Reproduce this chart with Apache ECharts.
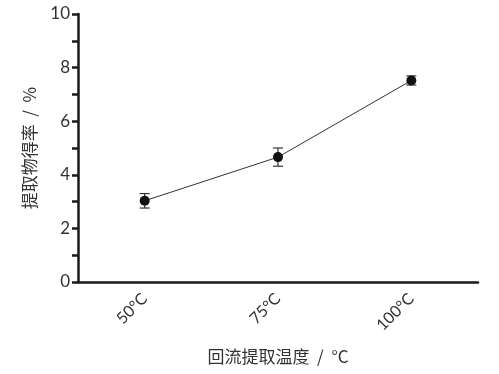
<!DOCTYPE html>
<html>
<head>
<meta charset="utf-8">
<script src="https://cdn.jsdelivr.net/npm/echarts@6/dist/echarts.min.js"></script>
<style>
  html, body { margin: 0; padding: 0; background: #fff; }
  #chart { width: 499px; height: 374px; }
</style>
</head>
<body>
<div id="chart"></div>
<script>
var categories = ['50°C', '75°C', '100°C'];
var yieldValues = [3.03, 4.66, 7.52];
var yieldErrors = [0.27, 0.34, 0.17];

var chart = echarts.init(document.getElementById('chart'));

var errorData = categories.map(function (c, i) {
    return [i, yieldValues[i] - yieldErrors[i], yieldValues[i] + yieldErrors[i]];
});

var option = {
    backgroundColor: '#fff',
    grid: { left: 78, right: 21, top: 14, bottom: 92 },
    xAxis: {
        type: 'category',
        data: categories,
        boundaryGap: true,
        name: '回流提取温度  /  °C',
        nameLocation: 'middle',
        nameGap: 66,
        nameTextStyle: { fontSize: 17, color: '#333', fontFamily: 'Noto Sans CJK SC' },
        axisLine: { lineStyle: { color: '#1a1a1a', width: 2.5 } },
        axisTick: { alignWithLabel: true, length: 6, lineStyle: { width: 2.5, color: '#1a1a1a' } },
        axisLabel: { rotate: 45, fontSize: 16, color: '#333', margin: 14, fontFamily: 'Lato' },
        splitLine: { show: false }
    },
    yAxis: {
        type: 'value',
        min: 0,
        max: 10,
        interval: 1,
        name: '提取物得率  /  %',
        nameLocation: 'middle',
        nameGap: 40,
        nameTextStyle: { fontSize: 17, color: '#333', fontFamily: 'Noto Sans CJK SC' },
        axisLine: { show: true, lineStyle: { color: '#1a1a1a', width: 2.5 } },
        axisTick: { show: true, length: 6, lineStyle: { width: 2.5, color: '#1a1a1a' } },
        axisLabel: {
            fontSize: 17, color: '#333', margin: 8, fontFamily: 'Lato',
            formatter: function (v) { return v % 2 === 0 ? String(v) : ''; }
        },
        splitLine: { show: false }
    },
    series: [
        {
            type: 'line',
            data: yieldValues,
            symbol: 'circle',
            symbolSize: 10,
            itemStyle: { color: '#111' },
            lineStyle: { color: '#333', width: 1 },
            z: 3
        },
        {
            type: 'custom',
            data: errorData,
            renderItem: function (params, api) {
                var x = api.value(0);
                var lo = api.coord([x, api.value(1)]);
                var hi = api.coord([x, api.value(2)]);
                var w = 5;
                var st = { stroke: '#333', lineWidth: 1.2 };
                return {
                    type: 'group',
                    children: [
                        { type: 'line', shape: { x1: lo[0], y1: lo[1], x2: hi[0], y2: hi[1] }, style: st },
                        { type: 'line', shape: { x1: lo[0] - w, y1: lo[1], x2: lo[0] + w, y2: lo[1] }, style: st },
                        { type: 'line', shape: { x1: hi[0] - w, y1: hi[1], x2: hi[0] + w, y2: hi[1] }, style: st }
                    ]
                };
            },
            z: 2
        }
    ]
};

chart.setOption(option);
</script>
</body>
</html>
